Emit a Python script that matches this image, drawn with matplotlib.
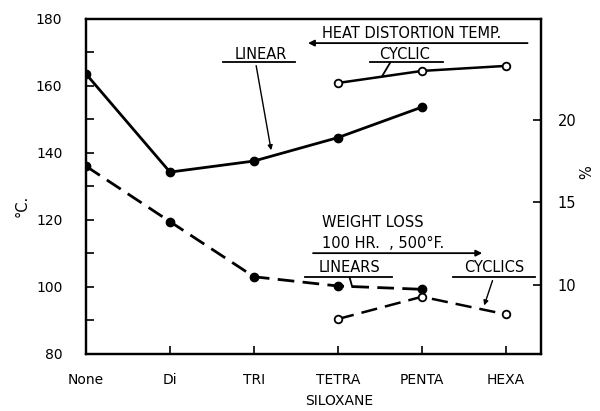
import matplotlib
matplotlib.use("Agg")
import matplotlib.pyplot as plt

plt.rcParams['font.family'] = 'DejaVu Sans'

siloxane = ["None", "Di", "TRI", "TETRA", "PENTA", "HEXA"]

# heat distortion temp (deg C), left axis
hdt_linear = [163.6, 134.3, 137.6, 144.6, 153.7]
hdt_cyclic = [160.9, 164.5, 166.0]
# weight loss (%), right axis
wl_linear = [17.2, 13.84, 10.5, 9.94, 9.74]
wl_cyclic = [7.94, 9.29, 8.22]

x_lin = list(range(len(hdt_linear)))
x_cyc = [3, 4, 5]

fig = plt.figure(figsize=(6, 4.11), dpi=100)
ax = fig.add_axes([0.1433, 0.1387, 0.7584, 0.8151])
ax2 = ax.twinx()

ax.plot(x_lin, hdt_linear, color="black", lw=2.0, marker="o", ms=6)
ax.plot(x_cyc, hdt_cyclic, color="black", lw=1.8, marker="o", ms=5.5,
        mfc="white", mew=1.3)
ax2.plot(x_lin, wl_linear, color="black", lw=2.0, marker="o", ms=6,
         dashes=(6, 3))
ax2.plot(x_cyc, wl_cyclic, color="black", lw=1.8, marker="o", ms=5.5,
         mfc="white", mew=1.3, dashes=(6.5, 3.2))

ax.set_xlim(0, 5.417)
ax.set_ylim(80, 180)
ax2.set_ylim(5.82, 26.12)

ax.set_xticks(range(len(siloxane)))
ax.set_xticklabels(siloxane)
ax.set_yticks(range(80, 181, 20))
ax.set_yticks(range(90, 180, 20), minor=True)
ax2.set_yticks([10, 15, 20])

ax.tick_params(axis="both", which="both", direction="in", length=6, width=1.2,
               labelsize=10, top=False)
ax.tick_params(axis="y", pad=17)
ax.tick_params(axis="x", pad=14)
ax2.tick_params(axis="y", direction="in", length=6, width=1.2, labelsize=10.5, pad=12)

for a in (ax, ax2):
    for s in a.spines.values():
        s.set_linewidth(1.6)

fig.text(0.037, 0.50, "°C.", rotation=90, ha="center", va="center", fontsize=10.5)
fig.text(0.978, 0.58, "%", rotation=90, ha="center", va="center", fontsize=10.5)
fig.text(0.508, 0.025, "SILOXANE", ha="left", va="center", fontsize=10)

tk = dict(fontsize=10.5, color="black")
lk = dict(color="black", lw=1.3)

# heat distortion labels
ax.text(2.81, 175.8, "HEAT DISTORTION TEMP.", ha="left", va="center", **tk)
ax.annotate("", xy=(2.61, 172.8), xytext=(5.29, 172.8),
            arrowprops=dict(arrowstyle="-|>", color="black", lw=1.3,
                            mutation_scale=9))
ax.text(3.79, 169.3, "CYCLIC", ha="center", va="center", **tk)
ax.plot([3.38, 4.25], [167.2, 167.2], **lk)
ax.plot([3.62, 3.52], [166.9, 162.7], **lk)
ax.text(2.08, 169.3, "LINEAR", ha="center", va="center", **tk)
ax.plot([1.63, 2.49], [167.2, 167.2], **lk)
ax.annotate("", xy=(2.21, 140.0), xytext=(2.02, 166.9),
            arrowprops=dict(arrowstyle="-|>", color="black", lw=1.0,
                            mutation_scale=7))

# weight loss labels
ax.text(2.81, 119.4, "WEIGHT LOSS", ha="left", va="center", **tk)
ax.text(2.81, 113.1, "100 HR.  , 500°F.", ha="left", va="center", **tk)
ax.annotate("", xy=(4.75, 110.1), xytext=(2.67, 110.1),
            arrowprops=dict(arrowstyle="-|>", color="black", lw=1.3,
                            mutation_scale=9))
ax.text(3.14, 105.7, "LINEARS", ha="center", va="center", **tk)
ax.plot([2.61, 3.64], [103.0, 103.0], **lk)
ax.plot([3.14, 3.17], [102.7, 100.0], **lk)
ax.text(4.86, 105.7, "CYCLICS", ha="center", va="center", **tk)
ax.plot([4.37, 5.35], [103.0, 103.0], **lk)
ax.annotate("", xy=(4.73, 93.7), xytext=(4.85, 102.7),
            arrowprops=dict(arrowstyle="-|>", color="black", lw=1.0,
                            mutation_scale=7))

fig.savefig("out.png", dpi=100)
